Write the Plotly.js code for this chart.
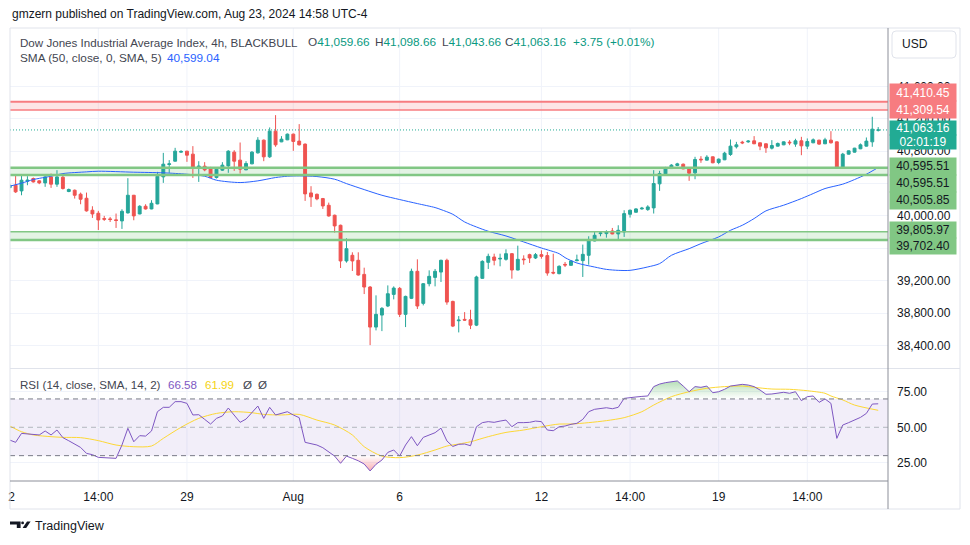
<!DOCTYPE html>
<html><head><meta charset="utf-8">
<script src="https://cdn.plot.ly/plotly-3.0.1.min.js"></script>
<style>html,body{margin:0;padding:0;background:#fff;}#chart{width:970px;height:545px;}</style>
</head><body><div id="chart"></div>
<script>
// ---------- DATA ----------
const opens = [40350,40380,40310,40430,40463,40434,40409,40483,40393,40479,40302,40318,40269,40219,40071,40034,39968,39964,39952,39939,
40038,40256,40025,40120,40087,40149,40483,40636,40677,40789,40801,40764,40603,40615,40599,40475,40566,40619,40789,40690,
40570,40644,40780,40937,40731,41048,40916,40941,41011,40925,40888,40285,40268,40215,40132,40009,39885,39444,39514,39452,
39278,39122,38627,38775,38887,39031,39105,38784,38982,39316,38920,39163,39241,39307,39452,38944,38705,38722,38717,38651,
39229,39427,39493,39468,39464,39534,39332,39468,39522,39481,39522,39510,39303,39287,39402,39390,39448,39448,39514,39691,
39782,39782,39815,39778,39802,40021,40046,40087,40079,40100,40397,40520,40586,40624,40640,40591,40533,40702,40690,40731,
40661,40694,40760,40855,40912,40916,40929,40904,40892,40838,40863,40879,40912,40888,40929,40863,40904,40937,40892,40937,
40916,40599,40764,40789,40830,40863,40916,41059.66];
const highs = [40385,40504,40504,40492,40475,40442,40504,40524,40566,40524,40339,40327,40289,40289,40120,40063,40001,39988,40030,40083,
40467,40260,40133,40145,40195,40545,40780,40690,40842,40813,40805,40863,40677,40665,40607,40586,40665,40813,40813,40908,
40677,40801,40974,40945,41094,41246,40987,41019,41019,41135,40896,40368,40277,40223,40165,40017,39893,39724,39551,39551,
39361,39134,39019,38874,39142,39130,39122,39015,39349,39464,39171,39328,39345,39460,39472,38953,38763,38812,38841,39262,
39452,39534,39534,39534,39588,39542,39633,39514,39534,39542,39576,39555,39534,39390,39431,39452,39522,39646,39749,39811,
39811,39823,39852,39885,40071,40079,40096,40112,40133,40566,40558,40607,40640,40657,40648,40595,40731,40739,40751,40735,
40710,40793,40945,40916,40929,40937,40987,40908,40896,40937,40908,40920,40937,40954,40978,40958,40958,40941,40966,41048,
40920,40780,40809,40842,40896,40970,41226,41098.66];
const lows = [40345,40285,40256,40380,40413,40393,40360,40347,40360,40327,40294,40215,40145,40054,39976,39827,39939,39926,39852,39840,
40030,39947,40021,40079,40083,40145,40409,40533,40673,40780,40669,40471,40421,40553,40467,40463,40557,40533,40557,40524,
40566,40640,40772,40677,40718,40855,40912,40937,40805,40871,40186,40112,40194,40087,39992,39794,39357,39423,39320,39262,
39035,38404,38586,38577,38874,38969,38751,38627,38973,38850,38895,39130,39130,39184,38903,38627,38561,38705,38602,38639,
39225,39345,39390,39378,39448,39225,39328,39398,39419,39468,39472,39262,39279,39279,39369,39386,39439,39246,39398,39687,
39749,39732,39774,39691,39741,39980,40042,40079,40063,40030,40310,40516,40582,40615,40578,40434,40454,40657,40686,40652,
40640,40690,40743,40834,40888,40904,40888,40813,40780,40822,40859,40875,40875,40855,40751,40826,40900,40879,40888,40896,
40595,40595,40760,40784,40826,40859,40855,41043.66];
const closes = [40380,40298,40442,40442,40421,40409,40483,40393,40483,40339,40327,40256,40207,40063,40025,39951,39960,39956,39944,40058,
40256,40001,40120,40087,40157,40491,40640,40644,40801,40797,40751,40591,40615,40570,40475,40578,40628,40801,40677,40578,
40648,40789,40937,40731,41048,40879,40949,41011,40921,40879,40273,40236,40211,40124,40000,39877,39444,39596,39444,39270,
39122,38627,38784,38858,39039,39109,38784,39006,39316,38887,39163,39254,39316,39452,38936,38639,38713,38713,38651,39246,
39439,39501,39452,39476,39534,39332,39464,39460,39481,39522,39501,39295,39295,39378,39394,39444,39456,39526,39703,39761,
39790,39807,39778,39823,40029,40071,40087,40096,40112,40401,40525,40599,40628,40644,40582,40529,40698,40694,40727,40657,
40702,40776,40863,40879,40904,40925,40892,40863,40842,40871,40896,40916,40904,40929,40867,40920,40941,40888,40941,40904,
40599,40764,40805,40838,40879,40925,41073,41063.16];

const smaIdx = [1,3,5,7,8,10,14,16,22,27,31,34,36,40,43,46,48,50,53,56,58,61,64,67,70,73,74,76,78,80,82,85,88,91,94,95,97,100,102,104,106,109,111,113,116,118,121,123,125,127,129,132,135,137,139,142,144,146,148];
const smaVal = [40368,40405,40450,40478,40491,40524,40545,40553,40541,40533,40516,40491,40442,40413,40434,40475,40491,40495,40487,40454,40400,40326,40256,40203,40153,40104,40079,40021,39926,39864,39811,39753,39679,39604,39534,39485,39419,39369,39340,39328,39328,39370,39411,39514,39596,39658,39741,39823,39885,39968,40063,40133,40215,40277,40339,40393,40450,40516,40599.04];

const rsi = [41.0,39.4,45.7,45.3,45.0,44.6,47.4,44.6,48.1,42.7,40.5,38.2,35.8,31.6,30.7,28.8,28.6,28.3,28.1,37.5,
49.3,39.8,44.1,43.8,47.4,61.0,64.1,64.1,68.1,68.1,66.9,58.7,58.9,55.6,52.3,56.3,58.0,63.6,58.2,53.5,
55.8,60.5,65.0,56.3,64.1,58.7,59.8,61.0,58.7,56.8,39.4,38.7,37.5,35.6,32.8,29.7,24.6,29.7,28.1,26.4,
24.1,19.2,23.9,26.9,32.3,34.0,29.7,37.5,43.4,37.0,42.9,44.6,46.2,49.4,40.4,36.5,38.0,38.2,37.0,50.4,
53.3,54.0,53.5,54.4,55.1,50.4,53.3,53.3,53.5,54.4,54.0,48.1,47.6,50.4,50.9,52.1,52.8,55.6,61.0,62.7,
63.4,63.8,63.1,64.1,70.4,71.1,71.4,71.8,72.1,78.7,80.5,81.5,82.2,82.7,79.1,75.1,78.7,78.2,79.1,74.4,
75.1,76.8,79.1,79.8,80.3,79.8,78.7,76.3,73.3,73.5,74.0,74.7,74.0,75.1,68.8,71.6,72.1,67.6,70.0,66.9,
42.2,51.6,53.3,55.1,57.0,59.8,66.4,66.58];

const rsiMaIdx = [1,3,5,8,10,13,16,19,22,25,27,30,33,36,39,42,44,47,50,53,56,59,61,64,67,70,73,75,77,79,82,85,88,91,94,96,99,102,105,108,110,113,116,119,122,125,127,130,133,136,139,140,142,144,148];
const rsiMaVal = [50.9,46.9,44.6,43.4,42.9,42.7,40.6,37.5,36.3,36.8,42.2,50.0,56.3,59.8,61.0,60.3,59.1,58.7,59.1,55.1,51.6,44.6,36.3,29.7,28.6,30.4,34.0,36.8,38.2,39.8,43.4,46.4,48.1,50.4,52.3,52.3,53.3,54.7,56.8,61.0,65.7,71.6,75.1,77.5,78.7,79.1,78.2,77.0,76.8,75.8,74.0,72.1,69.3,65.7,61.99];

const zoneRed = [41309.54, 41410.45];
const zoneGreenHigh = [40505.85, 40595.51];
const zoneGreenLow = [39702.40, 39805.97];
const lastPrice = 41063.16;

const timeTickIdx = [1.3,16,31,49,67,91,106,121,136];
const timeTickText = ['2','14:00','29','Aug','6','12','14:00','19','14:00'];
const priceTicks = [38400,38800,39200,39600,40000,40400,40800,41200,41600];
const priceTickText = ['38,400.00','38,800.00','39,200.00','','40,000.00','','40,800.00','41,200.00','41,600.00'];
const rsiTicks = [25,50,75];
const rsiTickText = ['25.00','50.00','75.00'];

const priceLabelVals = [41410.45, 41309.54, 41063.16, 41063.16, 40595.51, 40595.51, 40505.85, 39805.97, 39702.40];
const priceLabelText = ['41,410.45','41,309.54','41,063.16','02:01:19','40,595.51','40,595.51','40,505.85','39,805.97','39,702.40'];

// ---------- LAYOUT HELPERS ----------
const L=10, R=888, T=28, B=481;
const px = x => (x-L)/(R-L);
const py = y => (B-y)/(B-T);
const FONT = 'Liberation Sans, Arial, sans-serif';
const TXT = '#131722';
const LEG = '#434651';

const idx = closes.map((_,i)=>i+1);

const traces = [];
traces.push({type:'candlestick', x:idx, open:opens, high:highs, low:lows, close:closes, xaxis:'x', yaxis:'y',
  increasing:{line:{color:'#26a69a',width:1}, fillcolor:'#26a69a'},
  decreasing:{line:{color:'#ef5350',width:1}, fillcolor:'#ef5350'},
  whiskerwidth:0, hoverinfo:'skip', showlegend:false});
traces.push({type:'scatter', mode:'lines', x:smaIdx, y:smaVal, xaxis:'x', yaxis:'y',
  line:{color:'#2962ff', width:1, shape:'spline', smoothing:0.8}, hoverinfo:'skip', showlegend:false});

// RSI fills
traces.push({type:'scatter', mode:'lines', x:idx, y:idx.map(()=>70), xaxis:'x', yaxis:'y2', line:{width:0}, hoverinfo:'skip', showlegend:false});
traces.push({type:'scatter', mode:'lines', x:idx, y:rsi.map(v=>Math.max(v,70)), xaxis:'x', yaxis:'y2', line:{width:0}, fill:'tonexty',
  fillcolor:'rgba(76,175,80,0.25)',
  fillgradient:{type:'vertical', start:70, stop:84, colorscale:[[0,'rgba(76,175,80,0)'],[1,'rgba(76,175,80,0.45)']]},
  hoverinfo:'skip', showlegend:false});
traces.push({type:'scatter', mode:'lines', x:idx, y:idx.map(()=>30), xaxis:'x', yaxis:'y2', line:{width:0}, hoverinfo:'skip', showlegend:false});
traces.push({type:'scatter', mode:'lines', x:idx, y:rsi.map(v=>Math.min(v,30)), xaxis:'x', yaxis:'y2', line:{width:0}, fill:'tonexty',
  fillcolor:'rgba(242,54,69,0.2)',
  fillgradient:{type:'vertical', start:30, stop:18, colorscale:[[0,'rgba(242,54,69,0)'],[1,'rgba(242,54,69,0.45)']]},
  hoverinfo:'skip', showlegend:false});
traces.push({type:'scatter', mode:'lines', x:rsiMaIdx, y:rsiMaVal, xaxis:'x', yaxis:'y2',
  line:{color:'#fdd835', width:1, shape:'spline', smoothing:0.8}, hoverinfo:'skip', showlegend:false});
traces.push({type:'scatter', mode:'lines', x:idx, y:rsi, xaxis:'x', yaxis:'y2',
  line:{color:'#7e57c2', width:1}, hoverinfo:'skip', showlegend:false});

const shapes = [];
timeTickIdx.slice(1).forEach(t=>shapes.push({type:'line', xref:'x', yref:'paper', x0:t, x1:t, y0:0, y1:1, line:{color:'#f0f3fa', width:1}, layer:'below'}));
shapes.push({type:'rect', xref:'paper', yref:'y2', x0:0, x1:1, y0:30, y1:70, fillcolor:'rgba(126,87,194,0.1)', line:{width:0}, layer:'below'});
shapes.push({type:'line', xref:'paper', yref:'y2', x0:0, x1:1, y0:70, y1:70, line:{color:'#787b86', width:1, dash:'5px,4px'}});
shapes.push({type:'line', xref:'paper', yref:'y2', x0:0, x1:1, y0:30, y1:30, line:{color:'#787b86', width:1, dash:'5px,4px'}});
shapes.push({type:'line', xref:'paper', yref:'y2', x0:0, x1:1, y0:50, y1:50, line:{color:'rgba(120,123,134,0.5)', width:1, dash:'5px,4px'}});
shapes.push({type:'rect', xref:'paper', yref:'y', x0:0, x1:1, y0:zoneRed[0], y1:zoneRed[1], fillcolor:'rgba(247,124,128,0.2)', line:{width:0}, layer:'below'});
shapes.push({type:'line', xref:'paper', yref:'y', x0:0, x1:1, y0:zoneRed[1], y1:zoneRed[1], line:{color:'#f77c80', width:2}});
shapes.push({type:'line', xref:'paper', yref:'y', x0:0, x1:1, y0:zoneRed[0], y1:zoneRed[0], line:{color:'#f77c80', width:1.5}});
[zoneGreenHigh, zoneGreenLow].forEach((z,k)=>{
  shapes.push({type:'rect', xref:'paper', yref:'y', x0:0, x1:1, y0:z[0], y1:z[1], fillcolor:'rgba(129,199,132,0.22)', line:{width:0}, layer:'below'});
  shapes.push({type:'line', xref:'paper', yref:'y', x0:0, x1:1, y0:z[1], y1:z[1], line:{color:'#81c784', width:k?1.5:2.5}});
  shapes.push({type:'line', xref:'paper', yref:'y', x0:0, x1:1, y0:z[0], y1:z[0], line:{color:'#81c784', width:2.5}});
});
shapes.push({type:'line', xref:'paper', yref:'y', x0:0, x1:1, y0:lastPrice, y1:lastPrice, line:{color:'#22ab94', width:1, dash:'1px,2px'}});
shapes.push({type:'rect', xref:'paper', yref:'paper', x0:px(10), x1:px(960), y0:py(509), y1:py(28), line:{color:'#e0e3eb', width:1}});
shapes.push({type:'line', xref:'paper', yref:'paper', x0:px(10), x1:px(960), y0:py(368.5), y1:py(368.5), line:{color:'#e0e3eb', width:1}});
shapes.push({type:'line', xref:'paper', yref:'paper', x0:px(888), x1:px(888), y0:py(509), y1:py(28), line:{color:'#8c8f99', width:1}});
shapes.push({type:'line', xref:'paper', yref:'paper', x0:px(10), x1:px(888), y0:py(481), y1:py(481), line:{color:'#8c8f99', width:1}});
(function(){
  const x0=892,x1=956,y0=31,y1=58,r=4;
  const P=(x,y)=>px(x)+','+py(y);
  const d='M'+P(x0+r,y0)+' L'+P(x1-r,y0)+' Q'+P(x1,y0)+' '+P(x1,y0+r)+' L'+P(x1,y1-r)+' Q'+P(x1,y1)+' '+P(x1-r,y1)+
    ' L'+P(x0+r,y1)+' Q'+P(x0,y1)+' '+P(x0,y1-r)+' L'+P(x0,y0+r)+' Q'+P(x0,y0)+' '+P(x0+r,y0)+' Z';
  shapes.push({type:'path', xref:'paper', yref:'paper', path:d, line:{color:'#e0e3eb', width:1}, fillcolor:'#ffffff'});
  const poly=pts=>'M'+pts.map(p=>P(p[0],p[1])).join(' L')+' Z';
  shapes.push({type:'path', xref:'paper', yref:'paper', path:poly([[10,521.5],[20.6,521.5],[20.6,528],[16.8,528],[16.8,524.6],[10,524.6]]), fillcolor:'#131722', line:{width:0}});
  shapes.push({type:'circle', xref:'paper', yref:'paper', x0:px(21.2), x1:px(24), y0:py(521.5), y1:py(524.3), fillcolor:'#131722', line:{width:0}});
  shapes.push({type:'path', xref:'paper', yref:'paper', path:poly([[22.6,528],[26.2,528],[30.6,521.5],[27,521.5]]), fillcolor:'#131722', line:{width:0}});
})();

const annotations = [];
const A = (x,y,text,opts={}) => annotations.push(Object.assign({xref:'paper', yref:'paper', x:px(x), y:py(y), text:text,
  showarrow:false, xanchor:'left', yanchor:'middle', font:{family:FONT, size:12, color:TXT}}, opts));
const F = (c,s)=>({family:FONT,size:s||12,color:c});

A(10,14,'gmzern published on TradingView.com, Aug 23, 2024 14:58 UTC-4',{font:F(TXT,12)});
A(18,42,'Dow Jones Industrial Average Index, 4h, BLACKBULL',{font:F(LEG,11.6)});
const G='#089981';
A(306,42,'O<span style="color:'+G+'">41,059.66</span>',{font:F(LEG,11.8)});
A(373,42,'H<span style="color:'+G+'">41,098.66</span>',{font:F(LEG,11.8)});
A(440,42,'L<span style="color:'+G+'">41,043.66</span>',{font:F(LEG,11.8)});
A(503,42,'C<span style="color:'+G+'">41,063.16</span>',{font:F(LEG,11.8)});
A(571,42,'+3.75 (+0.01%)',{font:F(G,11.8)});
A(18,58,'SMA (50, close, 0, SMA, 5)',{font:F(LEG,11.8)});
A(165,58,'40,599.04',{font:F('#2962ff',11.8)});
A(18,384,'RSI (14, close, SMA, 14, 2)',{font:F(LEG,11.6)});
A(166,384,'66.58',{font:F('#7e57c2',11.6)});
A(203,384,'61.99',{font:F('#f5d312',11.6)});
A(241,384,'Ø',{font:F(LEG,11.6)});
A(256,384,'Ø',{font:F(LEG,11.6)});
A(900,44.5,'USD',{font:F(TXT,12)});
A(33,525.5,'TradingView',{font:F(TXT,12.5)});

// right-axis price labels (stacked boxes)
const labelShift = [9.0, 0.1, 1.8, -11.7, 1.0, -15.7, -25.2, 1.6, -6.3];
const labelH = [17, 17, 13.5, 13.5, 16.7, 16.7, 16.7, 16.2, 16.2];
const labelBg = ['#f77c80','#f77c80','#22ab94','#22ab94','#81c784','#81c784','#81c784','#81c784','#81c784'];
const labelFg = ['#ffffff','#ffffff','#ffffff','#ffffff',TXT,TXT,TXT,TXT,TXT];
priceLabelVals.forEach((v,k)=>annotations.push({xref:'paper', yref:'y', x:px(889), y:v, yshift:labelShift[k], text:priceLabelText[k],
  showarrow:false, xanchor:'left', yanchor:'middle', width:66, height:labelH[k], bgcolor:labelBg[k], borderpad:0, align:'center',
  font:{family:FONT, size:12, color:labelFg[k]}}));

const layout = {
  width:970, height:545, paper_bgcolor:'#ffffff', plot_bgcolor:'#ffffff',
  margin:{l:L, r:970-R, t:T, b:545-B, pad:0},
  showlegend:false, dragmode:false,
  xaxis:{range:[1.05,149.66], anchor:'y2', tickvals:timeTickIdx, ticktext:timeTickText, showgrid:false, zeroline:false,
    showline:false, ticks:'', ticklabelstandoff:7, tickfont:F(TXT,12), rangeslider:{visible:false}, fixedrange:true},
  yaxis:{domain:[py(368.5),1], range:[38115,42323], side:'right', tickvals:priceTicks, ticktext:priceTickText,
    showgrid:true, gridcolor:'#f0f3fa', zeroline:false, showline:false, ticks:'', ticklabelstandoff:8, tickfont:F(TXT,12), fixedrange:true},
  yaxis2:{domain:[0,py(369)], range:[12.12,91.13], side:'right', anchor:'x', tickvals:rsiTicks, ticktext:rsiTickText,
    showgrid:true, gridcolor:'#f0f3fa', zeroline:false, showline:false, ticks:'', ticklabelstandoff:8, tickfont:F(TXT,12), fixedrange:true},
  shapes:shapes, annotations:annotations
};
Plotly.newPlot('chart', traces, layout, {staticPlot:true, displayModeBar:false});
</script></body></html>
